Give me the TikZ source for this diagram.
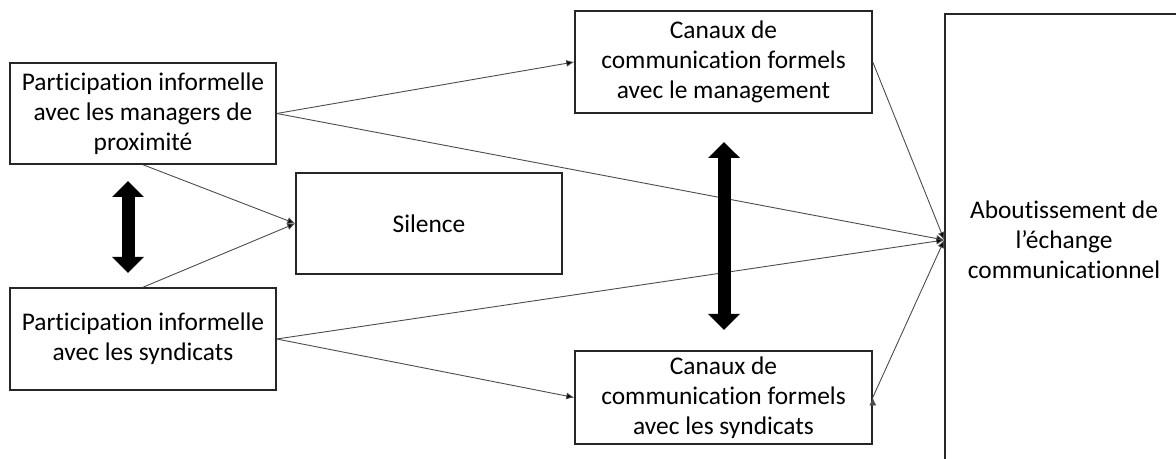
\documentclass[tikz,border=0pt]{standalone}
\usepackage{fontspec}
\setmainfont{Carlito}[Ligatures=NoCommon]
\usetikzlibrary{positioning, arrows.meta}

\begin{document}
\begin{tikzpicture}[x=0.5pt, y=0.5pt, >={Latex[length=4pt, width=3.5pt]},
	bloc/.style={draw=black!85, line width=0.75pt, align=center, inner sep=0pt, minimum width=133pt, minimum height=50.5pt, font=\fontsize{12.7}{15}\selectfont},
	canal/.style={bloc, minimum width=148.5pt},
	lien/.style={->, draw=black!70, line width=0.45pt},
	gros/.style={{Triangle[width=15.5pt, length=8pt]}-{Triangle[width=15.5pt, length=8pt]}, line width=6.5pt}]
	\useasboundingbox (0,0) rectangle (1176,459);
	\node[bloc]                          (A)  at (143,345.5)  {Participation informelle\\avec les managers de\\proximité};
	\node[bloc, minimum height=51pt]     (B)  at (143,120)    {Participation informelle\\avec les syndicats};
	\node[bloc]                          (S)  at (429,235.5)  {Silence};
	\node[canal, minimum height=51pt]    (CM) at (723.5,397)  {Canaux de\\communication formels\\avec le management};
	\node[canal, minimum height=46.5pt]  (CS) at (723.5,61.5) {Canaux de\\communication formels\\avec les syndicats};
	\node[bloc, minimum width=119pt, minimum height=226pt] (R) at (1064,219) {Aboutissement de\\l’échange\\communicationnel};
	
	%Liaisons:
	\path[lien]
	(A.east)  edge (CM.west)
	(A.east)  edge (R.west)
	(A.south) edge (S.west)
	(B.north) edge (S.west)
	(B.east)  edge (R.west)
	(B.east)  edge (CS.west)
	(CM.east) edge (R.west)
	(CS.east) edge (R.west);
	
	%Doubles fleches:
	\coordinate (g1) at (128,278);
	\coordinate (g2) at (128,186);
	\coordinate (d1) at (724,317);
	\coordinate (d2) at (724,129);
	\draw[gros] (g1) -- (g2);
	\draw[gros] (d1) -- (d2);
\end{tikzpicture}
\end{document}
